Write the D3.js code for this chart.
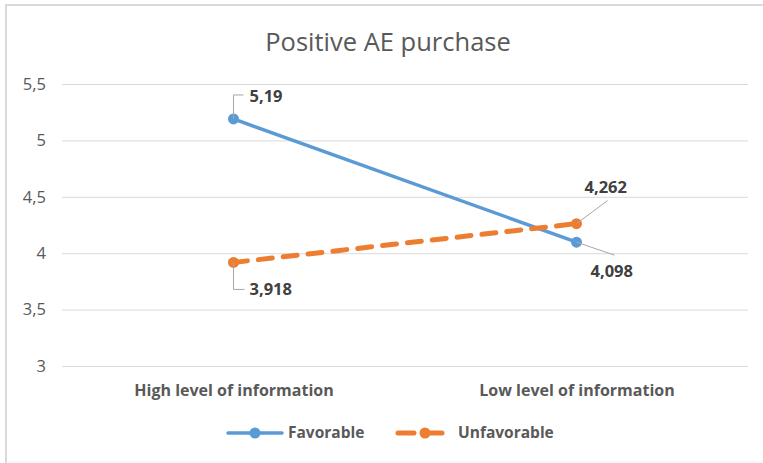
<!DOCTYPE html>
<html><head><meta charset="utf-8">
<script src="https://cdn.jsdelivr.net/npm/d3@7"></script>
<style>
html,body{margin:0;padding:0;background:#fff;}
svg{display:block;font-family:"Open Sans",sans-serif;}
</style></head>
<body><svg id="c" width="763" height="463"></svg>
<script>
const categories = ["High level of information", "Low level of information"];
const favorable = [5.19, 4.098];
const unfavorable = [3.918, 4.262];
const favorableLabels = ["5,19", "4,098"];
const unfavorableLabels = ["3,918", "4,262"];
const yTicks = [3, 3.5, 4, 4.5, 5, 5.5];
const yTickLabels = ["3", "3,5", "4", "4,5", "5", "5,5"];
const seriesNames = ["Favorable", "Unfavorable"];
const colors = ["#5b9bd5", "#ed7d31"];

const svg = d3.select("#c");
// frame
svg.append("line").attr("x1",5).attr("x2",763).attr("y1",5).attr("y2",5).attr("stroke","#d9d9d9").attr("stroke-width",2);
svg.append("line").attr("x1",6).attr("x2",6).attr("y1",4).attr("y2",463).attr("stroke","#d9d9d9").attr("stroke-width",2);
svg.append("line").attr("x1",6).attr("x2",763).attr("y1",462).attr("y2",462).attr("stroke","#eeeeee").attr("stroke-width",1);

const x = d3.scalePoint().domain(categories).range([62, 748]).padding(0.5);
const y = d3.scaleLinear().domain([3, 5.5]).range([366, 84]);

svg.append("text").attr("x",388).attr("y",51).attr("text-anchor","middle")
  .attr("font-size",25.5).attr("fill","#595959").text("Positive AE purchase");

// gridlines
const yAxis = d3.axisLeft(y).tickValues(yTicks).tickSize(-686).tickFormat((d,i)=>yTickLabels[i]);
const gy = svg.append("g").attr("transform","translate(62,0)").call(yAxis);
gy.select(".domain").remove();
gy.selectAll(".tick line").attr("stroke","#d9d9d9").attr("stroke-width",1);
gy.selectAll(".tick text").attr("fill","#595959").attr("font-size",16.5).attr("x",-16).attr("font-family","Open Sans, sans-serif");

// x axis labels
const xAxis = d3.axisBottom(x).tickSize(0);
const gx = svg.append("g").attr("transform","translate(0,382)").call(xAxis);
gx.select(".domain").remove();
gx.selectAll(".tick text").attr("fill","#595959").attr("font-size",16).attr("font-weight","bold")
  .attr("font-family","Open Sans, sans-serif").attr("dy","0.71em");

const line = d3.line().x((d,i)=>x(categories[i])).y(d=>y(d));
const series = [favorable, unfavorable];
series.forEach((s,k)=>{
  svg.append("path").datum(s).attr("d",line).attr("fill","none").attr("stroke",colors[k])
    .attr("stroke-width",k===0?3.5:5).attr("stroke-linecap","round")
    .attr("stroke-dasharray",k===0?null:"14,11");
  svg.selectAll(null).data(s).enter().append("circle")
    .attr("cx",(d,i)=>x(categories[i])).attr("cy",d=>y(d)).attr("r",5.5).attr("fill",colors[k]);
});

// data labels with leader lines
const lab = svg.append("g").attr("font-size",16.5).attr("font-weight","bold").attr("fill","#404040");
function leader(pts){
  svg.append("polyline").attr("points",pts.map(p=>p.join(",")).join(" "))
    .attr("fill","none").attr("stroke","#a6a6a6").attr("stroke-width",1);
}
// 5,19
{const px=x(categories[0]), py=y(favorable[0]);
 leader([[px,py],[px,py-24],[px+10,py-24]]);
 lab.append("text").attr("x",px+16).attr("y",py-17).text(favorableLabels[0]);}
// 3,918
{const px=x(categories[0]), py=y(unfavorable[0]);
 leader([[px,py],[px,py+27],[px+11,py+27]]);
 lab.append("text").attr("x",px+16).attr("y",py+33).text(unfavorableLabels[0]);}
// 4,262
{const px=x(categories[1]), py=y(unfavorable[1]);
 leader([[px,py],[px+31,py-23]]);
 lab.append("text").attr("x",px+8).attr("y",py-31).text(unfavorableLabels[1]);}
// 4,098
{const px=x(categories[1]), py=y(favorable[1]);
 leader([[px,py],[px+38,py+13]]);
 lab.append("text").attr("x",px+14).attr("y",py+35).text(favorableLabels[1]);}

// legend
const legend = svg.append("g");
const legX = [227, 397];
seriesNames.forEach((n,k)=>{
  const g = legend.append("g").attr("transform",`translate(${legX[k]},433)`);
  g.append("line").attr("x1",1).attr("x2",55).attr("y1",0).attr("y2",0).attr("stroke",colors[k])
    .attr("stroke-width",k===0?3.5:5).attr("stroke-linecap","round").attr("stroke-dasharray",k===0?null:"16,12");
  g.append("circle").attr("cx",28).attr("cy",0).attr("r",5.5).attr("fill",colors[k]);
  g.append("text").attr("x",61).attr("y",0).attr("dy","0.35em").attr("font-size",15.5).attr("font-weight","bold")
    .attr("fill","#595959").text(n);
});
</script></body></html>
